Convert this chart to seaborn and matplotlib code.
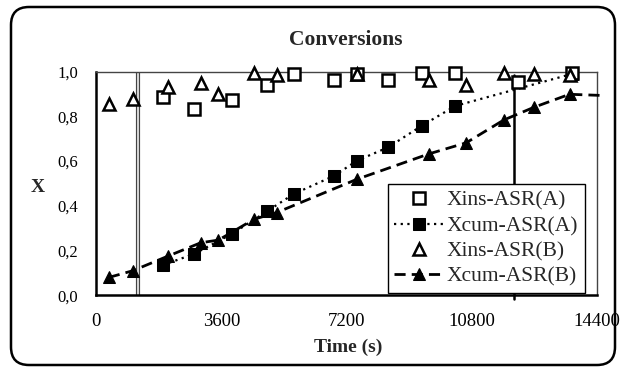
import matplotlib
matplotlib.use("Agg")
import matplotlib.pyplot as plt
import matplotlib.patheffects as pe
from matplotlib.patches import FancyBboxPatch
from matplotlib.ticker import FuncFormatter
import seaborn as sns
import pandas as pd

# Instantaneous and cumulative conversions for the two reactors
time_a = [1920, 2820, 3900, 4920, 5680, 6840, 7500, 8400, 9370, 10330, 12140, 13680]
xins_a = [0.888, 0.832, 0.873, 0.940, 0.990, 0.963, 0.990, 0.963, 0.995, 0.995, 0.955, 0.995]
time_cum_a = [1920, 2820, 3900, 4920, 5680, 6840, 7500, 8400, 9370, 10330, 13680]
xcum_a = [0.135, 0.185, 0.274, 0.376, 0.453, 0.534, 0.602, 0.662, 0.759, 0.847, 0.990]

time_b = [370, 1060, 2080, 3010, 3520, 4540, 5190, 7500, 9560, 10640, 11720, 12590, 13610]
xins_b = [0.856, 0.877, 0.933, 0.948, 0.899, 0.993, 0.985, 0.990, 0.963, 0.940, 0.993, 0.990, 0.985]
time_cum_b = [370, 1060, 2080, 3010, 3520, 4540, 5190, 7500, 9560, 10640, 11720, 12590, 13610, 14500]
xcum_b = [0.080, 0.110, 0.176, 0.235, 0.247, 0.340, 0.370, 0.519, 0.632, 0.682, 0.784, 0.841, 0.899, 0.894]

x_ticks = [0, 3600, 7200, 10800, 14400]
y_ticks = [0.0, 0.2, 0.4, 0.6, 0.8, 1.0]
feed_switch_times = [1200, 12000]

sns.set_style("white")
plt.rcParams["font.family"] = ["Liberation Serif", "DejaVu Serif"]

W, H = 623, 371
fig = plt.figure(figsize=(W / 100, H / 100), dpi=100)
ax = fig.add_axes([96 / W, 1 - 295.3 / H, 501 / W, 223.6 / H])

df_ins_a = pd.DataFrame({"t": time_a, "x": xins_a})
df_cum_a = pd.DataFrame({"t": time_cum_a, "x": xcum_a})
df_ins_b = pd.DataFrame({"t": time_b, "x": xins_b})
df_cum_b = pd.DataFrame({"t": time_cum_b, "x": xcum_b})

# switching lines
ax.plot([feed_switch_times[0]] * 2, [0, 1.0], color="#d8d8d8", lw=1.4, zorder=1,
        path_effects=[pe.Stroke(linewidth=3.0, foreground="#444444"), pe.Normal()])
ax.plot([feed_switch_times[1]] * 2, [-0.015, 0.985], color="black", lw=1.8, zorder=1,
        clip_on=False)

sns.lineplot(data=df_cum_a, x="t", y="x", ax=ax, color="black", linestyle=(0, (1, 2)),
             lw=1.6, marker="s", markersize=8, markeredgecolor="black",
             markerfacecolor="black", label="Xcum-ASR(A)", zorder=3)
sns.lineplot(data=df_cum_b, x="t", y="x", ax=ax, color="black", linestyle=(0, (4, 2.2)),
             lw=2.0, marker="^", markersize=9, markeredgecolor="black",
             markerfacecolor="black", label="Xcum-ASR(B)", zorder=3)
cum_b_line = ax.get_lines()[-1]
cum_b_line.set_markevery(list(range(len(time_cum_b) - 1)))

sns.lineplot(data=df_ins_a, x="t", y="x", ax=ax, linestyle="none", marker="s",
             markersize=8, markeredgecolor="black", markerfacecolor="white",
             markeredgewidth=1.8, label="Xins-ASR(A)", zorder=4)
sns.lineplot(data=df_ins_b, x="t", y="x", ax=ax, linestyle="none", marker="^",
             markersize=9, markeredgecolor="black", markerfacecolor="white",
             markeredgewidth=1.8, label="Xins-ASR(B)", zorder=5)

lines = ax.get_lines()
for ln in lines[2:]:
    ln.set_clip_on(False)

ax.set_xlim(0, 14400)
ax.set_ylim(0, 1.0)
ax.set_xticks(x_ticks)
ax.set_yticks(y_ticks)
ax.yaxis.set_major_formatter(FuncFormatter(lambda v, p: f"{v:.1f}".replace(".", ",")))
ax.tick_params(axis="both", direction="out", length=5, width=1.3, colors="black")
ax.tick_params(axis="y", labelsize=12, pad=8)
ax.tick_params(axis="x", labelsize=13.5, pad=8)
ax.set_xlabel("")
ax.set_ylabel("")
for side in ["left", "bottom"]:
    ax.spines[side].set_linewidth(1.8)
    ax.spines[side].set_color("black")
for side in ["top", "right"]:
    ax.spines[side].set_visible(True)
    ax.spines[side].set_linewidth(1.0)
    ax.spines[side].set_color("#444444")

by_label = {ln.get_label(): ln for ln in ax.get_lines()}
order = ["Xins-ASR(A)", "Xcum-ASR(A)", "Xins-ASR(B)", "Xcum-ASR(B)"]
leg = ax.legend([by_label[k] for k in order], order, loc="lower right",
                bbox_to_anchor=(0.976, 0.01), fontsize=15.5, frameon=True,
                fancybox=False, framealpha=1, edgecolor="black", handlelength=2.3,
                handletextpad=0.15, borderpad=0.3, labelspacing=0.24,
                borderaxespad=0)
leg.get_frame().set_linewidth(1.0)
leg.set_zorder(10)

fig.text(346 / W, 1 - 40 / H, "Conversions", ha="center", va="center",
         fontsize=15.5, fontweight="bold")
fig.text(348 / W, 1 - 347 / H, "Time (s)", ha="center", va="center",
         fontsize=14, fontweight="bold")
fig.text(38 / W, 1 - 187 / H, "X", ha="center", va="center",
         fontsize=14, fontweight="bold")

frame = FancyBboxPatch((11 / 100, 6 / 100), 604 / 100, 358 / 100,
                       boxstyle="round,pad=0,rounding_size=0.18",
                       transform=fig.dpi_scale_trans, fill=False,
                       edgecolor="black", linewidth=1.8)
fig.patches.append(frame)

fig.savefig("out.png", dpi=100)
